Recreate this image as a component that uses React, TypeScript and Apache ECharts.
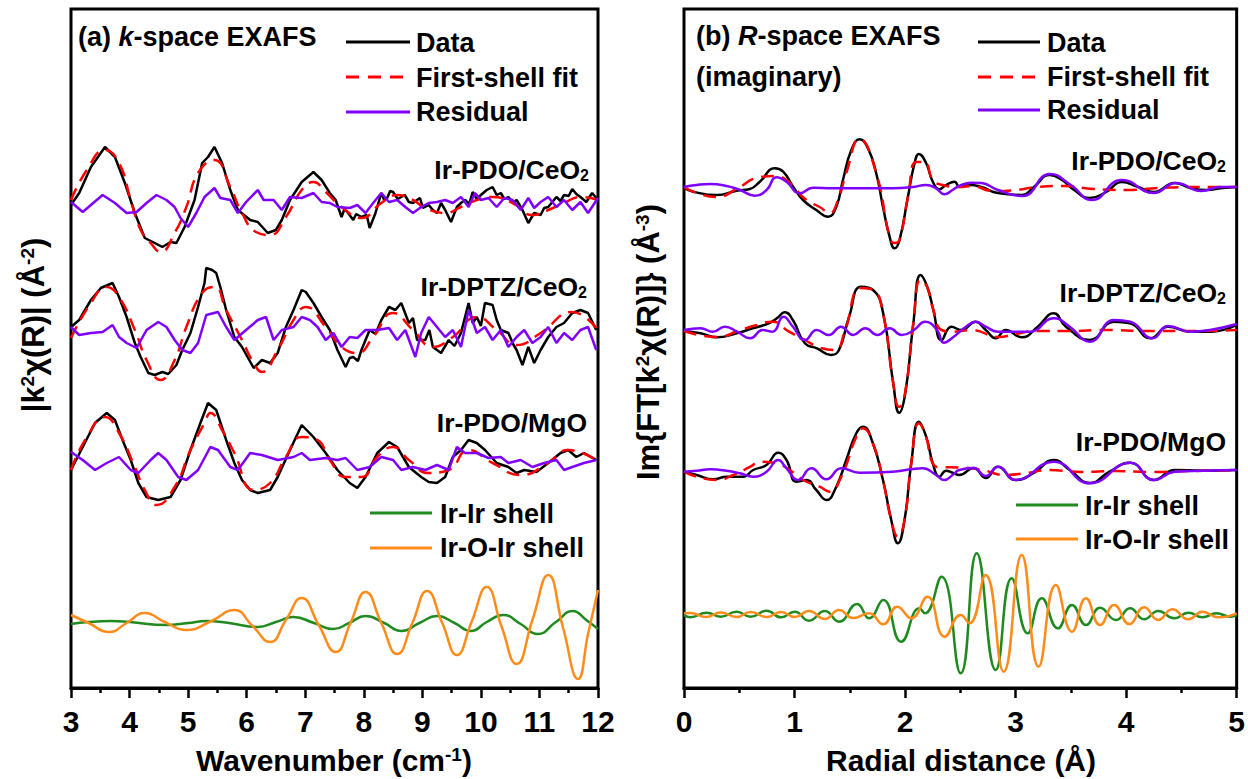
import React, { useEffect, useRef } from "react";
import * as echarts from "echarts";

// ---------- Panel (a): k-space EXAFS (values relative to each trace's zero line) ----------
const kTicks = [3, 12];
const kPdoCeData = [[3.0,0],[3.14,1.2],[3.34,3.8],[3.58,5.8],[3.75,4.8],[3.92,2.2],[4.09,-0.8],[4.26,-3.3],[4.43,-3.8],[4.56,-4.2],[4.7,-3.7],[4.8,-3.8],[4.94,-2.2],[5.11,0.5],[5.24,4.2],[5.34,4.8],[5.45,5.8],[5.58,4.2],[5.72,1.5],[5.85,-0.5],[6.06,-1.5],[6.19,-1.7],[6.36,-2.8],[6.5,-2.5],[6.6,-1.5],[6.74,0.5],[6.94,2.3],[7.14,3.3],[7.28,2.5],[7.42,1.2],[7.52,0.5],[7.62,-1.2],[7.67,-0.4],[7.72,-0.7],[7.82,-1.5],[7.87,-0.9],[7.96,-1.2],[8.05,-1.0],[8.1,-2.3],[8.2,-0.8],[8.3,1.2],[8.35,0.5],[8.4,0.7],[8.45,1.4],[8.5,1.3],[8.58,0.6],[8.64,0.8],[8.7,1.0],[8.77,0.3],[8.84,0.2],[8.91,0.5],[8.96,0.7],[9.01,-0.3],[9.11,0],[9.18,-0.5],[9.25,-0.8],[9.32,0.2],[9.39,-0.5],[9.49,-1.7],[9.59,-0.2],[9.66,0.2],[9.73,0.5],[9.8,0.1],[9.86,1.3],[9.93,0.6],[10.0,1.0],[10.1,1.5],[10.2,1.8],[10.27,1.0],[10.34,1.2],[10.4,0.6],[10.47,0.8],[10.55,0.2],[10.61,0.5],[10.71,-0.5],[10.81,-1.8],[10.91,-0.8],[11.02,-1.0],[11.08,-0.3],[11.15,-0.2],[11.22,0.3],[11.29,0.8],[11.36,0.4],[11.42,1.0],[11.5,0.9],[11.56,1.6],[11.63,1.1],[11.7,0.8],[11.8,0.3],[11.9,1.2],[12.0,0.5]];
const kPdoCeFit = [[3.0,0.5],[3.27,3.5],[3.58,5.5],[3.82,4.2],[4.02,0.5],[4.19,-2.5],[4.36,-3.8],[4.53,-4.7],[4.77,-2.8],[4.97,-0.2],[5.17,3.2],[5.45,4.5],[5.72,1.8],[5.92,-0.8],[6.16,-2.7],[6.4,-3.0],[6.67,-1.2],[6.94,1.5],[7.14,2.3],[7.35,1.3],[7.62,-0.2],[7.96,-1.3],[8.3,0.2],[8.57,1.0],[8.84,0.5],[9.05,-0.3],[9.39,-0.8],[9.66,-0.2],[9.93,0.5],[10.2,0.8],[10.54,0.2],[10.88,-1.0],[11.15,-0.5],[11.42,0.2],[11.7,0.8],[12.0,0.5]];
const kPdoCeRes = [[3.0,0.3],[3.2,-0.7],[3.54,1.0],[3.75,0.2],[3.95,-0.8],[4.12,-0.7],[4.29,0.2],[4.46,1.0],[4.63,0.5],[4.77,-0.2],[4.87,-1.3],[5.0,-2.2],[5.14,-0.8],[5.28,0.8],[5.45,1.7],[5.55,0.7],[5.72,0.5],[5.85,-0.8],[5.99,0.3],[6.19,1.5],[6.29,0.5],[6.46,0.5],[6.6,-0.5],[6.74,0.8],[6.94,0.7],[7.14,1.2],[7.28,0.3],[7.42,0.2],[7.55,-0.2],[7.76,-0.3],[7.89,0],[8.03,-0.8],[8.16,0.2],[8.3,1.2],[8.43,0.3],[8.57,0.5],[8.71,-0.2],[8.84,-0.8],[8.98,-0.2],[9.11,0.2],[9.25,0.3],[9.39,0.5],[9.52,0.2],[9.66,0.8],[9.79,-0.2],[9.9,1.2],[10.0,0.5],[10.13,0.7],[10.27,-0.2],[10.4,0.7],[10.54,0.5],[10.68,-0.5],[10.81,0.7],[10.91,-0.3],[11.02,0.3],[11.15,0.8],[11.29,-0.2],[11.42,0.5],[11.56,-0.5],[11.7,0.3],[11.83,-0.8],[12.0,0.7]];

const kDptzData = [[3.0,0.5],[3.14,1.2],[3.34,3.2],[3.51,4.4],[3.71,4.9],[3.82,3.5],[3.95,1.5],[4.09,-1.1],[4.19,-2.5],[4.32,-4.1],[4.43,-4.3],[4.56,-4.0],[4.66,-4.2],[4.8,-3.3],[4.9,-1.8],[5.04,-0.1],[5.17,2.5],[5.28,4.9],[5.31,6.4],[5.41,6.2],[5.48,5.9],[5.55,4.5],[5.65,2.2],[5.79,-0.5],[5.92,-1.5],[6.12,-3.6],[6.26,-2.8],[6.4,-3.1],[6.53,-2.1],[6.67,0.5],[6.8,2.2],[6.94,4.2],[7.01,4.0],[7.14,2.9],[7.28,1.5],[7.42,0.2],[7.55,-1.8],[7.69,-3.5],[7.76,-2.6],[7.82,-2.5],[7.9,-2.9],[7.96,-1.8],[8.1,0.2],[8.2,-0.2],[8.3,1.2],[8.43,2.5],[8.54,2.2],[8.64,2.9],[8.77,0.9],[8.84,1.4],[8.91,-0.8],[9.05,-0.8],[9.12,0.2],[9.18,-1.5],[9.32,-2.1],[9.45,-0.8],[9.55,-1.4],[9.66,-0.1],[9.79,2.9],[9.86,0.9],[9.93,1.5],[10.0,0.6],[10.07,2.9],[10.2,2.7],[10.27,1.2],[10.34,0.2],[10.47,-0.1],[10.55,-1.2],[10.61,-1.8],[10.71,-3.3],[10.81,-1.5],[10.91,-3.1],[11.02,-1.8],[11.15,-0.5],[11.29,0.5],[11.42,0.9],[11.56,1.9],[11.7,2.2],[11.83,1.9],[11.97,0.2]];
const kDptzFit = [[3.0,-0.6],[3.34,2.9],[3.61,4.5],[3.82,3.5],[4.09,0.2],[4.29,-2.8],[4.53,-4.8],[4.77,-2.8],[4.97,0.5],[5.24,3.9],[5.45,4.5],[5.65,2.2],[5.92,-0.8],[6.12,-3.1],[6.26,-4.0],[6.53,-1.8],[6.8,1.2],[7.01,2.5],[7.35,0.5],[7.62,-1.5],[7.89,-2.1],[8.16,-0.5],[8.5,1.9],[8.84,0.2],[9.18,-1.5],[9.52,-0.5],[9.93,1.5],[10.27,0.2],[10.61,-1.3],[11.02,-0.1],[11.56,2.0],[11.97,0.4]];
const kDptzRes = [[3.0,0.5],[3.14,-0.3],[3.34,-0.1],[3.54,0.0],[3.71,0.7],[3.82,-0.5],[3.95,-1.1],[4.12,-1.6],[4.29,0.2],[4.49,1.0],[4.63,0.5],[4.77,-0.8],[4.9,-1.8],[5.04,-2.1],[5.17,-1.1],[5.31,1.7],[5.51,2.0],[5.65,0.5],[5.79,-0.8],[5.99,0.2],[6.19,1.2],[6.33,1.5],[6.46,-0.8],[6.6,0.2],[6.8,0.5],[6.94,1.5],[7.08,1.2],[7.21,0.5],[7.35,-0.8],[7.48,-0.1],[7.62,-1.5],[7.76,-0.5],[7.89,-0.6],[8.03,0.2],[8.23,0.2],[8.43,0.4],[8.57,-0.8],[8.71,0.2],[8.88,-2.5],[8.98,-0.1],[9.11,1.5],[9.25,0.5],[9.39,-0.5],[9.52,0.2],[9.66,-1.5],[9.79,2.2],[9.93,-0.1],[10.07,0.5],[10.2,-0.8],[10.34,0.2],[10.47,-1.5],[10.61,-0.5],[10.74,0.2],[10.88,-1.1],[11.02,-0.5],[11.15,0.5],[11.29,-1.1],[11.42,-0.1],[11.56,-0.8],[11.7,0.2],[11.83,0.5],[11.97,-1.8]];

const kPdoMgData = [[3.0,-1.0],[3.2,1.3],[3.41,3.7],[3.61,4.7],[3.75,4.0],[3.88,2.0],[4.02,0.0],[4.15,-2.3],[4.29,-3.7],[4.49,-4.0],[4.7,-3.7],[4.87,-2.0],[5.04,1.0],[5.21,3.7],[5.34,5.7],[5.48,5.0],[5.65,2.0],[5.79,-0.3],[5.92,-2.0],[6.06,-3.0],[6.19,-3.3],[6.4,-3.0],[6.53,-1.7],[6.74,1.0],[6.94,3.5],[7.14,2.3],[7.35,0.7],[7.55,-1.0],[7.76,-2.3],[7.89,-2.8],[8.03,-1.7],[8.23,0.7],[8.43,1.8],[8.57,1.3],[8.77,-0.7],[8.98,-1.7],[9.11,-2.2],[9.25,-2.3],[9.39,-1.7],[9.52,0.3],[9.66,1.0],[9.79,2.0],[9.93,1.7],[10.07,1.0],[10.27,-0.3],[10.47,-0.7],[10.61,-1.3],[10.74,-1.0],[10.95,-1.2],[11.15,-0.3],[11.36,0.7],[11.49,1.0],[11.63,0.3],[11.76,0.7],[11.97,0.0]];
const kPdoMgFit = [[3.0,-1.0],[3.27,2.3],[3.58,4.3],[3.82,2.7],[4.09,-0.7],[4.26,-3.0],[4.46,-4.5],[4.77,-2.7],[5.04,1.0],[5.28,3.7],[5.38,4.7],[5.58,3.0],[5.79,0.7],[6.12,-3.0],[6.4,-2.3],[6.67,0.3],[6.94,2.3],[7.21,2.0],[7.42,0.0],[7.69,-1.7],[7.96,-1.7],[8.23,0.3],[8.5,1.3],[8.77,0.0],[9.11,-1.3],[9.45,-1.0],[9.79,1.0],[10.2,-0.3],[10.68,-1.5],[11.15,-0.3],[11.49,1.0],[11.97,0.0]];
const kPdoMgRes = [[3.0,0.8],[3.2,0.0],[3.41,-1.0],[3.61,-0.3],[3.82,0.3],[4.02,-1.0],[4.15,-1.3],[4.36,0.0],[4.49,0.7],[4.63,0.0],[4.83,-1.7],[4.97,-2.0],[5.17,-1.0],[5.38,1.3],[5.51,1.0],[5.72,-0.7],[5.85,-1.0],[6.06,0.7],[6.26,0.5],[6.53,0.0],[6.8,0.3],[6.94,0.7],[7.08,0.0],[7.35,0.2],[7.55,0.0],[7.69,0.2],[7.89,-1.0],[8.1,-0.7],[8.3,0.3],[8.5,0.0],[8.64,-1.0],[8.84,-0.7],[9.05,-1.0],[9.25,-0.5],[9.45,-1.0],[9.59,1.3],[9.73,0.7],[9.93,0.7],[10.13,0.2],[10.34,0.3],[10.47,-0.3],[10.68,0.0],[10.88,-0.7],[11.08,-0.3],[11.29,0.0],[11.42,-1.0],[11.56,-0.7],[11.76,-0.3],[11.97,0.0]];

const kIrIr = [[3.0,0],[3.3,0.2],[3.68,0.3],[4.0,0.2],[4.63,-0.1],[5.0,0.1],[5.31,0.3],[5.7,0.1],[6.19,-0.3],[6.5,0.2],[6.8,0.7],[7.15,0.1],[7.48,-0.5],[7.75,0.1],[8.03,0.8],[8.35,0.1],[8.64,-0.7],[8.95,0.1],[9.25,0.8],[9.55,0.1],[9.83,-0.7],[10.1,0.2],[10.38,0.9],[10.68,0],[10.97,-1.0],[11.28,0.2],[11.57,1.3],[11.8,0.4],[12.0,-0.5]];
const kIrOIr = [[3.0,0.9],[3.3,0.1],[3.65,-0.8],[3.95,0.1],[4.26,1.1],[4.6,0.2],[4.97,-0.6],[5.4,0.3],[5.79,1.4],[6.1,-0.2],[6.4,-1.8],[6.67,0.4],[6.94,2.6],[7.23,-0.1],[7.52,-2.8],[7.78,0.2],[8.03,3.2],[8.3,0.1],[8.57,-3.0],[8.83,0.1],[9.08,3.3],[9.34,0.1],[9.59,-3.1],[9.84,0.2],[10.1,3.7],[10.35,-0.2],[10.61,-4.0],[10.88,0.4],[11.15,4.9],[11.4,-0.3],[11.66,-5.5],[11.83,-1.0],[12.0,3.4]];

// ---------- Panel (b): R-space EXAFS (imaginary part) ----------
const rTicks = [0, 5];
const rPdoCeData = [[0,-0.1],[0.084,-0.47],[0.295,-0.8],[0.476,-0.37],[0.596,-0.2],[0.686,0.53],[0.822,1.87],[0.897,1.53],[0.987,0.03],[1.077,-1.3],[1.197,-2.3],[1.303,-2.97],[1.378,-1.97],[1.438,0.7],[1.514,3.7],[1.589,4.77],[1.664,3.87],[1.739,1.37],[1.8,-1.97],[1.86,-4.97],[1.905,-6.13],[1.95,-5.3],[2.026,-0.97],[2.086,2.37],[2.125,3.3],[2.191,2.37],[2.251,0.53],[2.311,-0.23],[2.371,0.2],[2.447,0.53],[2.492,0.03],[2.583,0.2],[2.69,0],[2.84,-0.6],[3.06,-0.8],[3.165,0],[3.31,1.2],[3.42,0.7],[3.53,-0.3],[3.67,-1.1],[3.82,-0.5],[3.96,0.5],[4.11,0],[4.25,-0.5],[4.44,0.4],[4.58,-0.1],[4.73,-0.3],[4.87,-0.1],[5.0,0]];
const rPdoCeFit = [[0,0],[0.114,-0.6],[0.295,-1.0],[0.476,-0.2],[0.656,0.9],[0.822,1.1],[0.927,0.7],[1.017,-0.3],[1.107,-1.3],[1.227,-2.0],[1.318,-2.6],[1.393,-1.3],[1.468,1.4],[1.589,4.8],[1.739,1.4],[1.86,-5.0],[1.905,-5.6],[1.95,-5.3],[2.026,-1.0],[2.101,2.5],[2.176,2.5],[2.251,0.7],[2.341,0.2],[2.492,0],[2.6,0.1],[2.8,-0.4],[3.0,-0.3],[3.2,0],[3.45,0.1],[3.7,-0.2],[4.0,-0.3],[4.3,-0.1],[4.6,0],[5.0,0]];
const rPdoCeRes = [[0,0],[0.114,0.2],[0.235,0.3],[0.386,0.1],[0.506,-0.3],[0.641,-0.87],[0.747,-0.3],[0.837,0.97],[0.927,0.53],[1.047,-0.63],[1.167,-0.07],[1.348,-0.13],[1.589,-0.13],[1.89,-0.13],[2.07,0],[2.19,0.2],[2.28,-0.13],[2.356,-0.73],[2.43,-0.3],[2.49,0.1],[2.6,0.43],[2.69,0.4],[2.84,-0.3],[3.06,-0.9],[3.31,1.3],[3.5,0.2],[3.69,-1.3],[3.96,0.7],[4.25,-0.6],[4.45,0.4],[4.68,-0.4],[4.85,0],[5.0,0]];

const rDptzData = [[0,0],[0.149,-0.23],[0.294,-0.63],[0.476,-0.23],[0.621,0.27],[0.767,0.77],[0.84,1.27],[0.912,1.87],[0.985,1.1],[1.094,-1.23],[1.203,-1.73],[1.33,-2.4],[1.402,-1.9],[1.494,1.43],[1.602,4.43],[1.711,4.1],[1.802,1.77],[1.893,-5.23],[1.947,-8.17],[2.002,-6.23],[2.075,0.77],[2.14,5.6],[2.2,4.43],[2.256,2.1],[2.33,-0.9],[2.42,0.43],[2.51,0.1],[2.638,0.93],[2.73,0.1],[2.82,-0.73],[2.91,0.1],[3.056,-0.63],[3.2,0.43],[3.345,1.77],[3.455,0.43],[3.672,-0.9],[3.89,0.93],[4.037,0.77],[4.22,-0.73],[4.38,0.43],[4.58,-0.07],[4.76,-0.07],[5.0,0.6]];
const rDptzFit = [[0,0],[0.294,-0.6],[0.51,0.1],[0.66,0.6],[0.8,0.93],[0.95,-0.07],[1.094,-0.9],[1.24,-1.7],[1.37,-1.9],[1.45,-0.2],[1.602,4.3],[1.711,4.1],[1.8,1.8],[1.893,-5.2],[1.947,-7.6],[2.0,-6.2],[2.075,0.8],[2.14,5.1],[2.2,4.4],[2.256,2.1],[2.33,0.1],[2.44,-0.07],[2.6,0.1],[2.85,-0.6],[3.0,-0.3],[3.2,0],[3.5,0],[3.8,0.1],[4.2,0],[4.6,0],[5.0,0.1]];
const rDptzRes = [[0,0.1],[0.15,0.27],[0.26,-0.07],[0.37,0.43],[0.48,-0.07],[0.6,-0.73],[0.71,0.1],[0.8,-0.07],[0.9,1.43],[0.985,0.43],[1.094,-0.9],[1.2,0.1],[1.31,-0.4],[1.42,0.43],[1.53,-0.4],[1.64,0.27],[1.75,-0.4],[1.86,0.27],[1.97,-0.4],[2.08,0.1],[2.18,0.93],[2.29,0.1],[2.35,-1.17],[2.44,-0.57],[2.55,0.43],[2.638,0.93],[2.73,0.43],[2.84,-0.07],[2.98,-0.07],[3.13,-0.07],[3.345,1.27],[3.49,0.43],[3.672,-1.07],[3.89,1.1],[4.037,0.93],[4.24,-0.73],[4.38,0.5],[4.58,-0.07],[4.76,0.1],[5.0,0.7]];

const rPdoMgData = [[0,0.03],[0.114,-0.3],[0.265,-0.73],[0.386,-0.47],[0.536,-0.47],[0.626,0.2],[0.747,0.7],[0.852,1.93],[0.927,1.2],[1.017,-0.97],[1.107,-0.8],[1.197,-1.8],[1.288,-2.8],[1.378,-1.47],[1.468,1.2],[1.559,3.87],[1.619,4.53],[1.709,2.87],[1.8,-0.8],[1.875,-4.8],[1.935,-7.13],[1.995,-4.8],[2.056,0.87],[2.125,5.03],[2.191,3.53],[2.251,0.87],[2.311,-0.47],[2.371,0.13],[2.43,-0.07],[2.49,-0.3],[2.62,0.4],[2.73,-0.6],[2.84,0.53],[3.0,-0.8],[3.165,-0.1],[3.345,1.2],[3.49,0.2],[3.672,-1.1],[3.85,0.03],[4.037,0.93],[4.25,-0.8],[4.44,0.2],[4.69,0.13],[5.0,0.2]];
const rPdoMgFit = [[0,0.03],[0.114,-0.47],[0.3,-0.8],[0.446,-0.3],[0.6,0.53],[0.686,1.03],[0.837,0.87],[0.957,0.2],[1.077,-0.8],[1.227,-1.47],[1.318,-1.97],[1.423,-0.47],[1.559,3.53],[1.619,4.37],[1.709,2.87],[1.8,-0.8],[1.875,-4.8],[1.935,-6.47],[1.995,-4.8],[2.056,0.87],[2.125,4.87],[2.19,3.53],[2.25,0.87],[2.326,0.47],[2.4,0.47],[2.5,0.45],[2.7,0.2],[2.9,-0.3],[3.1,-0.1],[3.3,0.2],[3.6,0],[3.9,0.1],[4.2,0],[4.6,0.1],[5.0,0.2]];
const rPdoMgRes = [[0,0.03],[0.114,0.13],[0.235,0.27],[0.386,0.13],[0.506,-0.13],[0.626,-0.47],[0.747,0.03],[0.852,1.2],[0.927,0.37],[1.032,-0.8],[1.152,0.37],[1.288,-0.73],[1.423,0.37],[1.589,-0.07],[1.89,0.03],[2.16,0.37],[2.28,-0.3],[2.356,-0.8],[2.43,-0.3],[2.49,0.2],[2.62,0.4],[2.73,-0.4],[2.84,0.53],[3.0,-0.8],[3.345,1.03],[3.672,-1.13],[4.037,0.93],[4.25,-0.8],[4.44,0.03],[4.69,0.13],[5.0,0.2]];

const rIrIr = [[0,0],[0.058,-0.23],[0.204,0.23],[0.331,-0.17],[0.476,0.33],[0.603,-0.17],[0.749,0.43],[0.876,-0.23],[1.003,0.33],[1.13,-0.57],[1.275,0.4],[1.402,-0.67],[1.566,1.1],[1.675,-0.33],[1.802,1.5],[1.965,-2.67],[2.13,0.67],[2.18,0.17],[2.329,3.83],[2.503,-5.83],[2.648,6.17],[2.82,-5.5],[2.965,3.67],[3.11,-1.83],[3.237,1.67],[3.382,-1.33],[3.51,1.0],[3.637,-1.0],[3.764,0.73],[3.909,-0.5],[4.036,0.67],[4.163,-0.43],[4.29,0.4],[4.436,-0.33],[4.563,0.23],[4.69,-0.23],[4.817,0.17],[4.945,-0.17],[5.0,0]];
const rIrOIr = [[0,0.17],[0.058,0.2],[0.204,-0.2],[0.331,0.25],[0.476,-0.2],[0.603,0.3],[0.749,-0.2],[0.876,0.3],[1.003,-0.2],[1.13,0.4],[1.275,-0.4],[1.402,0.5],[1.53,-0.3],[1.675,0.18],[1.802,-0.93],[1.929,0.83],[2.057,-0.33],[2.202,1.83],[2.358,-2.17],[2.503,0],[2.583,-0.83],[2.728,4.0],[2.892,-5.67],[3.055,6.0],[3.208,-5.17],[3.364,3.0],[3.51,-1.67],[3.637,1.67],[3.764,-1.0],[3.891,1.0],[4.029,-0.9],[4.163,0.77],[4.29,-0.5],[4.418,0.57],[4.563,-0.43],[4.69,0.33],[4.836,-0.23],[5.0,0.17]];

// vertical stacking offsets (plot units)
const kOffsets = { pdoCe: 48.3, dptz: 35.6, pdoMg: 22.8, shells: 6.4 };
const rOffsets = { pdoCe: 50.1, dptz: 35.7, pdoMg: 21.6, shells: 7.3 };

const FONT = "'Liberation Sans', Arial, Helvetica, sans-serif";
const BLACK = "#000000";
const RED = "#ff0000";
const PURPLE = "#8000ff";
const GREEN = "#1f8a1f";
const ORANGE = "#ff8c1a";

function richFor(size: number) {
  const base = { fontFamily: FONT, fontWeight: "bold", fill: "#000", color: "#000" };
  return {
    sup: { ...base, fontSize: Math.round(size * 0.62), verticalAlign: "top" },
    sub: { ...base, fontSize: Math.round(size * 0.62), verticalAlign: "bottom" },
    it: { ...base, fontSize: size, fontStyle: "italic" },
  };
}

function txt(x: number, y: number, text: string, size: number, align = "left", rotation = 0) {
  return {
    type: "text",
    x,
    y,
    rotation,
    silent: true,
    style: {
      text,
      fontSize: size,
      fontWeight: "bold",
      fontFamily: FONT,
      fill: "#000",
      align,
      verticalAlign: "middle",
      textAlign: align,
      textVerticalAlign: "middle",
      rich: richFor(size),
    },
  };
}

function legLine(x1: number, x2: number, y: number, color: string, dash?: number[]) {
  return {
    type: "line",
    silent: true,
    shape: { x1, y1: y, x2, y2: y },
    style: { stroke: color, lineWidth: 3, lineDash: dash || null },
  };
}

function ser(data: number[][], off: number, idx: number, color: string, opts: any = {}) {
  return {
    type: "line",
    xAxisIndex: idx,
    yAxisIndex: idx,
    data: data.map(([x, y]) => [x, y + off]),
    showSymbol: false,
    symbol: "none",
    smooth: opts.smooth ?? false,
    silent: true,
    z: opts.z ?? 2,
    lineStyle: { color, width: opts.width ?? 2.5, type: opts.dash ? [13, 8] : "solid", cap: "butt" },
  };
}

function xAxisFor(idx: number, range: number[]) {
  return {
    type: "value",
    gridIndex: idx,
    min: range[0],
    max: range[1],
    interval: 1,
    axisLine: { show: true, lineStyle: { color: "#000", width: 3 } },
    axisTick: { show: true, inside: false, length: 10, lineStyle: { color: "#000", width: 2.5 } },
    minorTick: { show: true, splitNumber: 2, length: 5, lineStyle: { color: "#000", width: 2.5 } },
    splitLine: { show: false },
    minorSplitLine: { show: false },
    axisLabel: { color: "#000", fontSize: 30, fontWeight: "bold", fontFamily: FONT, margin: 18 },
  };
}

function yAxisFor(idx: number) {
  return { type: "value", gridIndex: idx, min: 0, max: 67.9, show: false };
}

export default function App() {
  const ref = useRef<HTMLDivElement>(null);
  useEffect(() => {
    if (!ref.current) return;
    const chart = echarts.init(ref.current, null, { renderer: "svg" });
    const option: any = {
      animation: false,
      backgroundColor: "#ffffff",
      grid: [
        { left: 71, top: 9, width: 527, height: 679, show: true, borderColor: "#000", borderWidth: 3, backgroundColor: "transparent" },
        { left: 684, top: 9, width: 554, height: 679, show: true, borderColor: "#000", borderWidth: 3, backgroundColor: "transparent" },
      ],
      xAxis: [xAxisFor(0, kTicks), xAxisFor(1, rTicks)],
      yAxis: [yAxisFor(0), yAxisFor(1)],
      series: [
        ser(kPdoCeData, kOffsets.pdoCe, 0, BLACK),
        ser(kPdoCeFit, kOffsets.pdoCe, 0, RED, { dash: true, smooth: true, z: 3 }),
        ser(kPdoCeRes, kOffsets.pdoCe, 0, PURPLE, { z: 4 }),
        ser(kDptzData, kOffsets.dptz, 0, BLACK),
        ser(kDptzFit, kOffsets.dptz, 0, RED, { dash: true, smooth: true, z: 3 }),
        ser(kDptzRes, kOffsets.dptz, 0, PURPLE, { z: 4 }),
        ser(kPdoMgData, kOffsets.pdoMg, 0, BLACK),
        ser(kPdoMgFit, kOffsets.pdoMg, 0, RED, { dash: true, smooth: true, z: 3 }),
        ser(kPdoMgRes, kOffsets.pdoMg, 0, PURPLE, { z: 4 }),
        ser(kIrIr, kOffsets.shells, 0, GREEN, { smooth: true }),
        ser(kIrOIr, kOffsets.shells, 0, ORANGE, { smooth: true, z: 3 }),

        ser(rPdoCeData, rOffsets.pdoCe, 1, BLACK, { smooth: true }),
        ser(rPdoCeFit, rOffsets.pdoCe, 1, RED, { dash: true, smooth: true, z: 3 }),
        ser(rPdoCeRes, rOffsets.pdoCe, 1, PURPLE, { smooth: true, z: 4 }),
        ser(rDptzData, rOffsets.dptz, 1, BLACK, { smooth: true }),
        ser(rDptzFit, rOffsets.dptz, 1, RED, { dash: true, smooth: true, z: 3 }),
        ser(rDptzRes, rOffsets.dptz, 1, PURPLE, { smooth: true, z: 4 }),
        ser(rPdoMgData, rOffsets.pdoMg, 1, BLACK, { smooth: true }),
        ser(rPdoMgFit, rOffsets.pdoMg, 1, RED, { dash: true, smooth: true, z: 3 }),
        ser(rPdoMgRes, rOffsets.pdoMg, 1, PURPLE, { smooth: true, z: 4 }),
        ser(rIrIr, rOffsets.shells, 1, GREEN, { smooth: true }),
        ser(rIrOIr, rOffsets.shells, 1, ORANGE, { smooth: true, z: 3 }),
      ],
      graphic: [
        // panel (a) annotations
        txt(78, 37, "(a) {it|k}-space EXAFS", 27),
        legLine(346, 410, 42, BLACK),
        txt(416, 43, "Data", 27),
        legLine(346, 406, 77, RED, [13, 9]),
        txt(416, 78, "First-shell fit", 27),
        legLine(346, 410, 112, PURPLE),
        txt(416, 112, "Residual", 27),
        txt(589, 170, "Ir-PDO/CeO{sub|2}", 26.5, "right"),
        txt(587, 287, "Ir-DPTZ/CeO{sub|2}", 26.5, "right"),
        txt(587, 423, "Ir-PDO/MgO", 26.5, "right"),
        legLine(370, 432, 513, GREEN),
        txt(440, 514, "Ir-Ir shell", 27),
        legLine(370, 432, 548, ORANGE),
        txt(440, 548, "Ir-O-Ir shell", 27),
        txt(334, 760, "Wavenumber (cm{sup|-1})", 30, "center"),
        txt(33, 325, "|k{sup|2}χ(R)| (Å{sup|-2})", 31, "center", Math.PI / 2),
        // panel (b) annotations
        txt(696, 36, "(b) {it|R}-space EXAFS", 27),
        txt(696, 77, "(imaginary)", 27),
        legLine(978, 1040, 42, BLACK),
        txt(1047, 43, "Data", 27),
        legLine(978, 1036, 77, RED, [13, 9]),
        txt(1047, 77, "First-shell fit", 27),
        legLine(978, 1040, 110, PURPLE),
        txt(1047, 110, "Residual", 27),
        txt(1226, 161, "Ir-PDO/CeO{sub|2}", 26.5, "right"),
        txt(1226, 293, "Ir-DPTZ/CeO{sub|2}", 26.5, "right"),
        txt(1226, 442, "Ir-PDO/MgO", 26.5, "right"),
        legLine(1016, 1078, 505, GREEN),
        txt(1085, 506, "Ir-Ir shell", 27),
        legLine(1016, 1078, 539, ORANGE),
        txt(1085, 540, "Ir-O-Ir shell", 27),
        txt(961, 760, "Radial distance (Å)", 30, "center"),
        txt(648, 342, "Im{FT[k{sup|2}χ(R)]} (Å{sup|-3})", 31, "center", Math.PI / 2),
      ],
    };
    chart.setOption(option);
    return () => chart.dispose();
  }, []);
  return (
    <div
      ref={ref}
      style={{ position: "fixed", left: 0, top: 0, width: 1248, height: 779, background: "#fff" }}
    />
  );
}
